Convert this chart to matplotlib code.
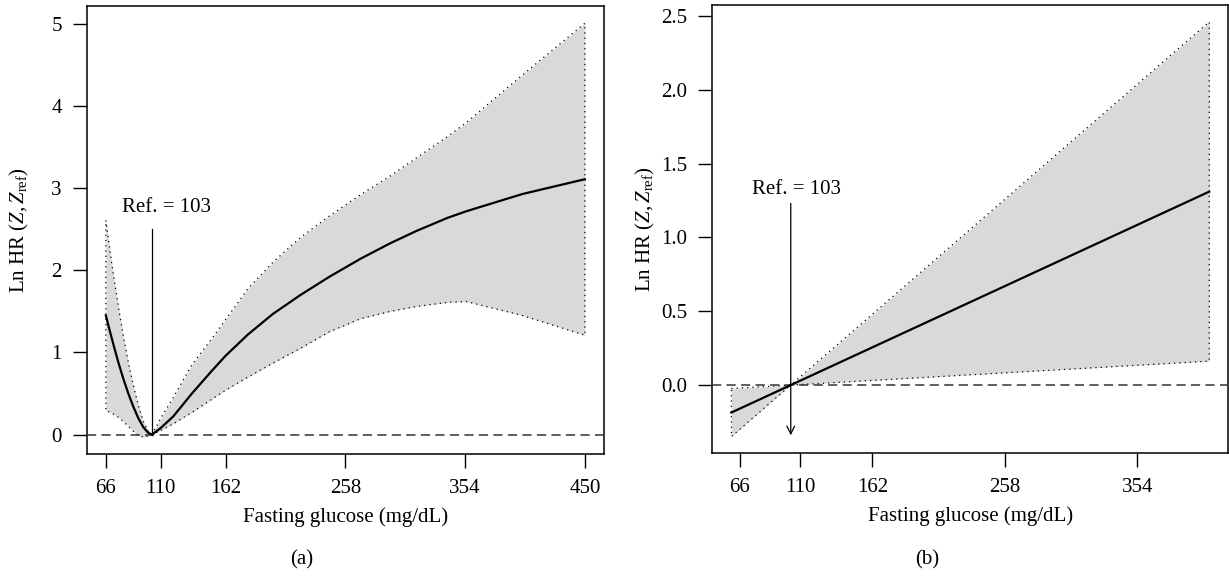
import matplotlib
matplotlib.use("Agg")
import matplotlib.pyplot as plt
import numpy as np

plt.rcParams['font.family'] = ['Liberation Serif', 'DejaVu Serif']
plt.rcParams['mathtext.fontset'] = 'custom'
plt.rcParams['mathtext.rm'] = 'Liberation Serif'
plt.rcParams['mathtext.it'] = 'Liberation Serif:italic'

# ---- Panel (a): spline model ----
a_x = [66, 68, 72, 76, 80, 84, 88, 92, 96, 100, 103, 110, 120, 135, 150, 162, 180, 200,
       222, 245, 270, 294, 315, 340, 355, 400, 450]
a_est = [1.45, 1.33, 1.10, 0.88, 0.68, 0.50, 0.34, 0.20, 0.09, 0.02, 0.0, 0.08, 0.22, 0.50,
         0.76, 0.96, 1.22, 1.47, 1.70, 1.92, 2.14, 2.33, 2.48, 2.64, 2.72, 2.93, 3.11]
a_upper = [2.61, 2.38, 1.95, 1.56, 1.20, 0.88, 0.60, 0.36, 0.16, 0.04, 0.0, 0.20, 0.45, 0.85,
           1.15, 1.40, 1.78, 2.10, 2.40, 2.66, 2.92, 3.15, 3.37, 3.63, 3.80, 4.38, 5.01]
a_lower = [0.29, 0.28, 0.25, 0.21, 0.16, 0.10, 0.04, -0.01, -0.03, -0.02, 0.0, 0.05, 0.13, 0.27,
           0.42, 0.54, 0.70, 0.87, 1.05, 1.25, 1.41, 1.50, 1.56, 1.61, 1.62, 1.45, 1.21]
a_xticks = [66, 110, 162, 258, 354, 450]
a_yticks = [0, 1, 2, 3, 4, 5]

# ---- Panel (b): linear model ----
b_x = [60, 103, 406]
b_est = [-0.186, 0.0, 1.31]
b_upper = [-0.023, 0.0, 2.46]
b_lower = [-0.349, 0.0, 0.162]
b_xticks = [66, 110, 162, 258, 354]
b_yticks = [0.0, 0.5, 1.0, 1.5, 2.0, 2.5]

ref_value = 103
ref_label = "Ref. = 103"
xlabel = "Fasting glucose (mg/dL)"
ylabel = r"Ln HR $(Z, Z_{\mathrm{ref}})$"

W, H = 1229, 576
FS = 15
fig = plt.figure(figsize=(W / 100, H / 100), dpi=100)

def px_axes(l, r, t, b):
    return fig.add_axes([l / W, 1 - b / H, (r - l) / W, (b - t) / H])

axA = px_axes(86.7, 604, 6, 454)
axB = px_axes(712.3, 1228.3, 5, 453)

band_col = '#d9d9d9'

def draw(ax, x, est, lo, up):
    x = np.asarray(x, float)
    ax.fill_between(x, lo, up, color=band_col, lw=0, zorder=1)
    px = np.concatenate([x, x[::-1], x[:1]])
    py = np.concatenate([up, lo[::-1], up[:1]])
    ax.plot(px, py, color='black', lw=0.9, linestyle=(0, (1, 3.2)), zorder=2)
    ax.plot(x, est, color='black', lw=1.6, zorder=4)
    ax.axhline(0, color='#333333', lw=1.1, linestyle=(0, (6, 3.5)), zorder=3)

draw(axA, a_x, a_est, a_lower, a_upper)
draw(axB, b_x, b_est, b_lower, b_upper)

# reference markers
axA.plot([ref_value, ref_value], [0, 2.5], color='black', lw=0.9, zorder=5)
axA.text(114.8, 2.76, ref_label, ha='center', va='center', fontsize=FS)

axB.annotate('', xy=(ref_value, -0.34), xytext=(ref_value, 1.231),
             arrowprops=dict(arrowstyle='->', color='black', lw=0.9,
                             mutation_scale=14, shrinkA=0, shrinkB=0), zorder=5)
axB.text(107, 1.326, ref_label, ha='center', va='center', fontsize=FS)

def style(ax, xlim, ylim, xt, yt, yfmt):
    ax.set_xlim(*xlim)
    ax.set_ylim(*ylim)
    ax.set_xticks(xt)
    ax.set_yticks(yt)
    ax.set_yticklabels([yfmt.format(v) for v in yt])
    ax.tick_params(direction='out', length=10, width=1.0, labelsize=FS, pad=8,
                   colors='black')
    for s in ax.spines.values():
        s.set_linewidth(1.1)
    ax.set_xlabel(xlabel, fontsize=FS)
    ax.set_ylabel(ylabel, fontsize=FS)
    ax.yaxis.set_label_coords(-0.107, 0.5)
    ax.xaxis.set_label_coords(0.5, -0.12)

style(axA, (50.64, 465.36), (-0.237, 5.22), a_xticks, a_yticks, "{:.0f}")
style(axB, (46.2, 419.8), (-0.46, 2.574), b_xticks, b_yticks, "{:.1f}")

fig.text(302 / W, 1 - 560 / H, "(a)", ha='center', va='center', fontsize=FS)
fig.text(927 / W, 1 - 560 / H, "(b)", ha='center', va='center', fontsize=FS)

fig.savefig("out.png", dpi=100)
